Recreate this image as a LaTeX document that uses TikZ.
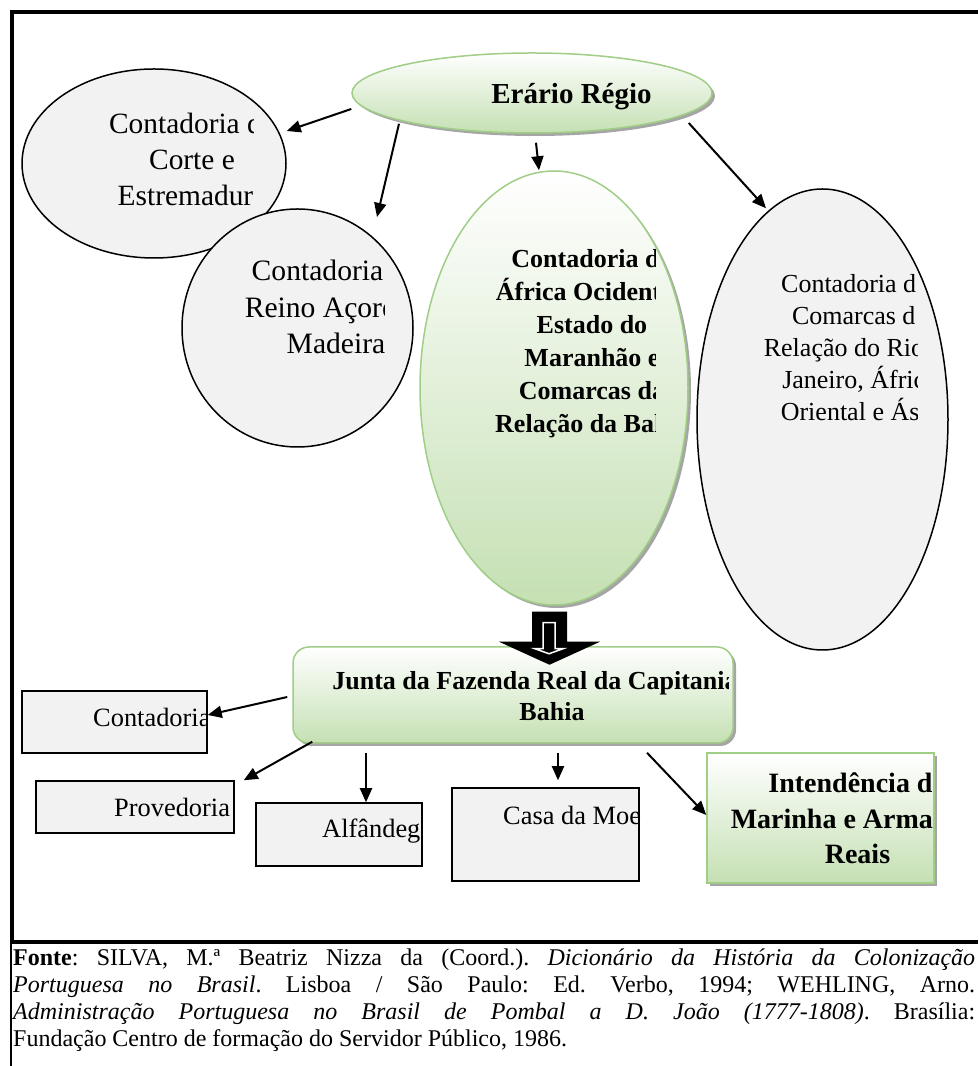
\documentclass[tikz,border=0pt]{standalone}
\usepackage{fontspec}
\setmainfont{Liberation Serif}
\usetikzlibrary{arrows.meta, shapes.geometric, shadows}
\tikzset{>={Triangle[length=14pt,width=12pt]}}

\definecolor{boxgrey}{HTML}{F2F2F2}
\definecolor{greenline}{HTML}{A0CE86}
\definecolor{greenfill}{HTML}{C5E0B3}
\definecolor{shadowgrey}{HTML}{A5A5A5}

\tikzset{
  greyell/.style={ellipse, draw, line width=1.5pt, fill=boxgrey, inner sep=0pt},
  greybox/.style={rectangle, draw, line width=1.5pt, fill=boxgrey, inner sep=0pt},
  greenshape/.style={draw=greenline, line width=1.5pt, top color=white, bottom color=greenfill, inner sep=0pt,
    drop shadow={shadow xshift=3pt, shadow yshift=-3pt, fill=shadowgrey, opacity=1}},
  greenell/.style={ellipse, greenshape},
  greenbox/.style={rectangle, greenshape},
  txt/.style={inner sep=0pt, align=center, anchor=base},
  boxtxt/.style={inner sep=0pt, anchor=base west, font=\fontsize{26.4}{30}\selectfont},
  arr/.style={->, line width=2pt}
}

\begin{document}
\begin{tikzpicture}[x=1pt, y=1pt]
\useasboundingbox (0,0) rectangle (978,1066);
% frame
\draw[line width=4pt] (9.5,1054) -- (978,1054);
\draw[line width=4pt] (11.5,1056) -- (11.5,124);
\draw[line width=4pt] (9.5,124) -- (978,124);
\draw[line width=2pt] (11,124) -- (11,0);

% contadorias under the erario (text nodes sit on the baseline of their last line)
\node[greyell, minimum width=264pt, minimum height=189pt] (corte) at (154,902.5) {};
\begin{scope}
\clip (0,0) rectangle (253,1066);
\node[txt, font=\fontsize{29.4}{36}\selectfont] (corte-txt) at (192,860)
  {Contadoria d\phantom{a}\\Corte e\\Estremadur\phantom{a}};
\end{scope}

\node[greyell, minimum width=231pt, minimum height=238pt] (reino) at (297.5,738) {};
\begin{scope}
\clip (0,0) rectangle (384,1066);
\node[txt, font=\fontsize{29.6}{36.5}\selectfont] (reino-txt) at (336,712)
  {Contadoria\phantom{ do}\\Reino Açore\phantom{s e}\\Madeira};
\end{scope}

\node[greenell, minimum width=268pt, minimum height=434pt] (africa) at (554,678) {};
\begin{scope}
\clip (0,0) rectangle (655,1066);
\node[txt, font=\bfseries\fontsize{26}{33}\selectfont] (africa-txt) at (592,633)
  {Contadoria d\phantom{a}\\África Ocident\phantom{al,}\\Estado do\\Maranhão e\\Comarcas da\\Relação da Bah\phantom{ia}};
\end{scope}

\node[greyell, minimum width=251pt, minimum height=461pt] (rio) at (822.5,646.5) {};
\begin{scope}
\clip (0,0) rectangle (917,1066);
\node[txt, font=\fontsize{26}{32}\selectfont] (rio-txt) at (859.5,645)
  {Contadoria d\phantom{as}\\Comarcas d\phantom{a}\\Relação do Rio\phantom{ de}\\Janeiro, Áfric\phantom{a}\\Oriental e Ás\phantom{ia}};
\end{scope}

\node[greenell, minimum width=360pt, minimum height=80pt] (erario) at (532,973) {};
\node[txt, font=\bfseries\fontsize{29}{34}\selectfont] (erario-txt) at (571.5,962) {Erário Régio};

\draw[arr] ([yshift=-16pt]erario.west) -- ([yshift=32.5pt]corte.east);
\draw[arr] ([xshift=-133pt,yshift=10pt]erario.south) -- ([xshift=79.5pt,yshift=-8.75pt]reino.north);
\draw[arr] ([xshift=4pt,yshift=-9pt]erario.south) -- ([xshift=-15pt]africa.north);
\draw[arr] ([xshift=-24pt,yshift=-30pt]erario.east) -- ([xshift=-56.5pt,yshift=-20pt]rio.north);

% junta and its offices
\node[greenbox, rounded corners=16pt, minimum width=440pt, minimum height=96pt] (junta) at (513,371) {};
\begin{scope}
\clip (0,0) rectangle (728,1066);
\node[txt, font=\bfseries\fontsize{26}{31}\selectfont] (junta-txt) at (552,345)
  {Junta da Fazenda Real da Capitania\phantom{ da}\\Bahia};
\end{scope}

\coordinate (bk) at ([xshift=-22pt,yshift=-6pt]africa.south);
\fill (bk) -- ++(35,0) -- ++(0,-30) -- ++(33,0) -- ++(-50.5,-23) -- ++(-50.5,23) -- ++(33,0) -- cycle;
\draw[white, line width=1.5pt] ([xshift=11pt,yshift=-11pt]bk) -- ++(12,0) -- ++(0,-26) -- ++(8,0)
  -- ++(-14,-5) -- ++(-14,5) -- ++(8,0) -- cycle;

\node[greybox, minimum width=185pt, minimum height=62pt] (contadoria) at (114.5,344) {};
\begin{scope}
\clip (0,0) rectangle (207,1066);
\node[boxtxt] (contadoria-txt) at (93,339) {Contadoria};
\end{scope}
\node[greybox, minimum width=198pt, minimum height=52pt] (provedoria) at (135,259) {};
\node[boxtxt] (provedoria-txt) at (114,249) {Provedoria};
\node[greybox, minimum width=166pt, minimum height=63pt] (alfandega) at (339,231.5) {};
\node[boxtxt] (alfandega-txt) at (322,228) {Alfândeg};
\node[greybox, minimum width=187pt, minimum height=93pt] (moeda) at (545.5,231.5) {};
\node[boxtxt] (moeda-txt) at (503,241) {Casa da Moe};

\node[greenbox, minimum width=227pt, minimum height=130pt] (intendencia) at (820.5,248) {};
\begin{scope}
\clip (0,0) rectangle (933,1066);
\node[txt, font=\bfseries\fontsize{28}{35.5}\selectfont] (intendencia-txt) at (857.5,202)
  {Intendência d\phantom{a}\\Marinha e Arma\phantom{zéns}\\Reais};
\end{scope}

\draw[arr] ([xshift=-5pt,yshift=-2pt]junta.west) -- ([yshift=7pt]contadoria.east);
\draw[arr] ([xshift=20pt,yshift=2pt]junta.south west) -- ([xshift=9pt]provedoria.north east);
\draw[arr] ([xshift=-147pt,yshift=-9pt]junta.south) -- ([xshift=27pt]alfandega.north);
\draw[arr] ([xshift=45pt,yshift=-9pt]junta.south) -- ([xshift=12.5pt,yshift=7pt]moeda.north);
\draw[arr] ([xshift=134pt,yshift=-9pt]junta.south) -- ([yshift=3pt]intendencia.west);

% source
\node[anchor=north west, inner sep=0pt, text width=962pt, align=justify, font=\fontsize{24}{27}\selectfont\frenchspacing] (fonte) at (13,117.5)
  {\textbf{Fonte}: SILVA, M.ª Beatriz Nizza da (Coord.). \textit{Dicionário da História da Colonização}\linebreak
   \textit{Portuguesa no Brasil}. Lisboa / São Paulo: Ed. Verbo, 1994; WEHLING, Arno.\linebreak
   \textit{Administração Portuguesa no Brasil de Pombal a D. João (1777-1808)}. Brasília:\linebreak
   Fundação Centro de formação do Servidor Público, 1986.};
\end{tikzpicture}
\end{document}
